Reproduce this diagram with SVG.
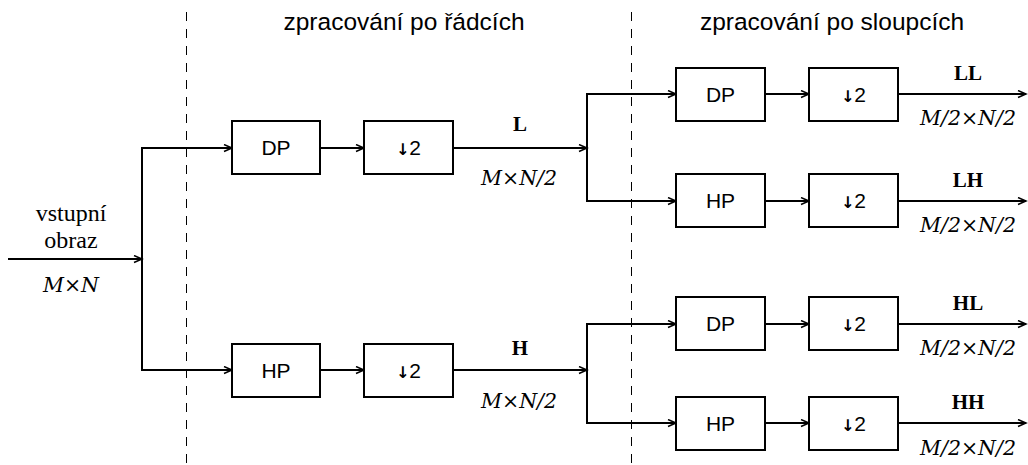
<svg xmlns="http://www.w3.org/2000/svg" width="1028" height="465" viewBox="0 0 1028 465">
  <style>
    .box { fill: #fff; stroke: #000; stroke-width: 2; }
    .ln { fill: none; stroke: #000; stroke-width: 2; }
    .arr { fill: none; stroke: #000; stroke-width: 2; marker-end: url(#head); }
    .dash { fill: none; stroke: #000; stroke-width: 1; stroke-dasharray: 9 8; }
    .bt { font-family: "Liberation Sans", Arial, sans-serif; font-size: 21px; text-anchor: middle; fill: #000; }
    .dn { font-family: "DejaVu Sans", sans-serif; font-size: 16px; font-weight: bold; fill: #000; }
    .title { font-family: "Liberation Sans", Arial, sans-serif; font-size: 24.5px; text-anchor: middle; }
    .lab { font-family: "Liberation Serif", "Times New Roman", serif; font-size: 24px; text-anchor: middle; }
    .band { font-family: "Liberation Serif", "Times New Roman", serif; font-size: 21px; font-weight: bold; text-anchor: middle; }
    .dim { font-family: "DejaVu Serif", "Liberation Serif", serif; font-size: 20.5px; font-style: italic; text-anchor: middle; }
  </style>
  <defs>
    <marker id="head" markerUnits="userSpaceOnUse" markerWidth="12" markerHeight="10" refX="9" refY="4" orient="auto">
      <path d="M1,0.5 L9,4 L1,7.5" fill="none" stroke="#000" stroke-width="1.5"/>
    </marker>
  </defs>

  <!-- section separators -->
  <line class="dash" x1="186.5" y1="12" x2="186.5" y2="465"/>
  <line class="dash" x1="631.5" y1="12" x2="631.5" y2="465"/>
  <text class="title" x="404" y="30">zpracování po řádcích</text>
  <text class="title" x="832" y="30">zpracování po sloupcích</text>

  <!-- connectors -->
  <g id="connectors">
    <line class="arr" x1="8" y1="259" x2="142" y2="259"/>
    <polyline class="ln" points="232,148 142,148 142,370 232,370"/>
    <line class="arr" x1="142" y1="148" x2="232" y2="148"/>
    <line class="arr" x1="142" y1="370" x2="232" y2="370"/>
    <line class="arr" x1="320" y1="148" x2="364" y2="148"/>
    <line class="arr" x1="320" y1="370" x2="364" y2="370"/>
    <line class="arr" x1="453" y1="148" x2="587" y2="148"/>
    <line class="arr" x1="453" y1="370" x2="587" y2="370"/>
    <polyline class="ln" points="676,94 587,94 587,201 676,201"/>
    <polyline class="ln" points="676,324 587,324 587,423 676,423"/>
    <line class="arr" x1="587" y1="94" x2="676" y2="94"/>
    <line class="arr" x1="587" y1="201" x2="676" y2="201"/>
    <line class="arr" x1="587" y1="324" x2="676" y2="324"/>
    <line class="arr" x1="587" y1="423" x2="676" y2="423"/>
    <line class="arr" x1="765" y1="94" x2="809" y2="94"/>
    <line class="arr" x1="765" y1="201" x2="809" y2="201"/>
    <line class="arr" x1="765" y1="324" x2="809" y2="324"/>
    <line class="arr" x1="765" y1="423" x2="809" y2="423"/>
    <line class="arr" x1="898" y1="94" x2="1026" y2="94"/>
    <line class="arr" x1="898" y1="201" x2="1026" y2="201"/>
    <line class="arr" x1="898" y1="324" x2="1026" y2="324"/>
    <line class="arr" x1="898" y1="423" x2="1026" y2="423"/>
  </g>

  <!-- input -->
  <g id="input">
    <text class="lab" x="71" y="221">vstupní</text>
    <text class="lab" x="71" y="248">obraz</text>
    <text class="dim" x="71" y="292">M×N</text>
  </g>

  <!-- row processing -->
  <g id="row-dp"><rect class="box" x="232" y="121" width="88" height="53"/><text class="bt" x="276" y="155">DP</text></g>
  <g id="row-dp-down"><rect class="box" x="364" y="121" width="89" height="53"/><text class="bt" x="408.5" y="155"><tspan class="dn">↓</tspan>2</text></g>
  <g id="row-hp"><rect class="box" x="232" y="344" width="88" height="53"/><text class="bt" x="276" y="378">HP</text></g>
  <g id="row-hp-down"><rect class="box" x="364" y="344" width="89" height="53"/><text class="bt" x="408.5" y="378"><tspan class="dn">↓</tspan>2</text></g>
  <g id="label-L"><text class="band" x="520" y="131">L</text><text class="dim" x="519" y="185">M×N/2</text></g>
  <g id="label-H"><text class="band" x="520" y="355">H</text><text class="dim" x="519" y="408">M×N/2</text></g>

  <!-- column processing -->
  <g id="ll-dp"><rect class="box" x="676" y="68" width="89" height="53"/><text class="bt" x="720.5" y="102">DP</text></g>
  <g id="ll-down"><rect class="box" x="809" y="68" width="89" height="53"/><text class="bt" x="853.5" y="102"><tspan class="dn">↓</tspan>2</text></g>
  <g id="lh-hp"><rect class="box" x="676" y="174" width="89" height="53"/><text class="bt" x="720.5" y="208">HP</text></g>
  <g id="lh-down"><rect class="box" x="809" y="174" width="89" height="53"/><text class="bt" x="853.5" y="208"><tspan class="dn">↓</tspan>2</text></g>
  <g id="hl-dp"><rect class="box" x="676" y="297" width="89" height="53"/><text class="bt" x="720.5" y="331">DP</text></g>
  <g id="hl-down"><rect class="box" x="809" y="297" width="89" height="53"/><text class="bt" x="853.5" y="331"><tspan class="dn">↓</tspan>2</text></g>
  <g id="hh-hp"><rect class="box" x="676" y="397" width="89" height="53"/><text class="bt" x="720.5" y="431">HP</text></g>
  <g id="hh-down"><rect class="box" x="809" y="397" width="89" height="53"/><text class="bt" x="853.5" y="431"><tspan class="dn">↓</tspan>2</text></g>

  <g id="label-LL"><text class="band" x="968" y="80">LL</text><text class="dim" x="968" y="125">M/2×N/2</text></g>
  <g id="label-LH"><text class="band" x="968" y="187">LH</text><text class="dim" x="968" y="232">M/2×N/2</text></g>
  <g id="label-HL"><text class="band" x="968" y="310">HL</text><text class="dim" x="968" y="355">M/2×N/2</text></g>
  <g id="label-HH"><text class="band" x="968" y="409">HH</text><text class="dim" x="968" y="455">M/2×N/2</text></g>
</svg>
